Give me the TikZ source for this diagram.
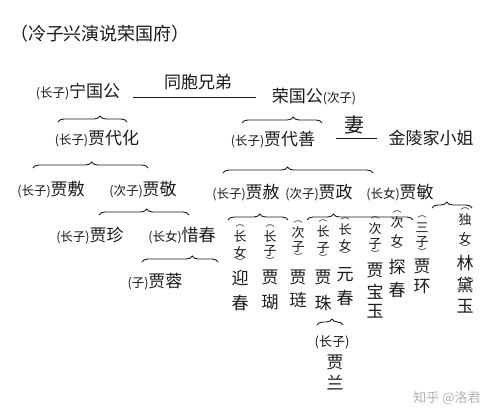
\documentclass[tikz,border=0pt]{standalone}
\usepackage{fontspec}
\usetikzlibrary{decorations.pathreplacing}
\newfontfamily\cjk{Noto Sans CJK SC}
\definecolor{ink}{HTML}{1A1A1A}
\newcommand\pf[1]{{\fontsize{12.5}{14}\selectfont(#1)}}
\tikzset{
 nm/.style={inner sep=0pt, font=\cjk\fontsize{17}{20}\selectfont, text=ink},
 lb/.style={inner sep=0pt, font=\cjk\fontsize{13}{15}\selectfont, text=ink},
 pr/.style={inner sep=0pt, font=\cjk\fontsize{9}{10}\selectfont, text=ink},
 brc/.style={draw=ink, line width=0.9pt, decorate, decoration={brace, amplitude=6pt, aspect=#1}},
 ln/.style={draw=ink, line width=0.9pt},
}
\begin{document}
\begin{tikzpicture}[x=1pt,y=-1pt]
\fill[white] (0,0) rectangle (499,418);
% title
\node[nm, font=\cjk\fontsize{18}{20}\selectfont] (title) at (100,34) {（冷子兴演说荣国府）};
% generation 1
\node[nm] (ningguo) at (78,92) {\pf{长子}宁国公};
\node[nm] (rongguo) at (314,97) {荣国公\pf{次子}};
\node[nm] (tongbao) at (198,82) {同胞兄弟};
\coordinate (l1a) at (133,97);
\coordinate (l1b) at (256,97);
\draw[ln] (l1a) -- (l1b);
% generation 2
\node[nm] (daihua) at (97,139) {\pf{长子}贾代化};
\node[nm] (daishan) at (273,140) {\pf{长子}贾代善};
\node[nm, font=\cjk\fontsize{20}{22}\selectfont] (qi) at (354,125) {妻};
\coordinate (l2a) at (336,138);
\coordinate (l2b) at (377,138);
\draw[ln] (l2a) -- (l2b);
\node[nm] (jinling) at (431,138) {金陵家小姐};
% generation 3
\node[nm] (jiafu) at (51,190) {\pf{长子}贾敷};
\node[nm] (jiajing) at (143,190) {\pf{次子}贾敬};
\node[nm] (jiashe) at (246,193) {\pf{长子}贾赦};
\node[nm] (jiazheng) at (319,193) {\pf{次子}贾政};
\node[nm] (jiamin) at (400,193) {\pf{长女}贾敏};
% generation 4 (left)
\node[nm] (jiazhen) at (90,236) {\pf{长子}贾珍};
\node[nm] (xichun) at (182,236) {\pf{长女}惜春};
\node[nm] (jiarong) at (155,282) {\pf{子}贾蓉};
% braces
\foreach \i/\a/\b/\y/\asp in {1/58/127/122/0.61, 2/242/322/123/0.64, 3/33/148/168/0.51,
  4/99/189/215/0.53, 5/142/218/262/0.66, 6/223/373/173/0.43, 7/228/288/220/0.53,
  8/307/413/220/0.25, 9/432/472/208/0.37, 10/317/343/325/0.58}{
  \coordinate (bl\i) at (\a,\y);
  \coordinate (br\i) at (\b,\y);
  \draw[brc=\asp] (bl\i) -- (br\i);
}
% vertical columns: labels
\foreach \n/\x/\ya/\yb/\ta/\tb in {c1/240/237/252/长/女, c2/270/237/251/长/子, c3/298/233/247/次/子,
  c4/323/232/248/长/子, c5/345/230/245/长/女, c6/375/229/244/次/子, c7/397/223/240/次/女,
  c8/422/228/242/三/子, c9/465/220/238/独/女}{
  \node[pr] (\n po) at (\x,\ya-11) {︵};
  \node[lb] (\n a) at (\x,\ya) {\ta};
  \node[lb] (\n b) at (\x,\yb) {\tb};
  \node[pr] (\n pc) at (\x,\yb+10) {︶};
}
% vertical columns: names
\foreach \n/\x/\y/\t in {n1a/240/278/迎, n1b/240/303/春, n2a/270/277/贾, n2b/270/302/瑚,
  n3a/298/277/贾, n3b/298/300/琏, n4a/323/277/贾, n4b/323/303/珠, n5a/345/275/元, n5b/345/298/春,
  n6a/375/270/贾, n6b/375/292/宝, n6c/375/311/玉, n7a/397/267/探, n7b/397/290/春,
  n8a/422/266/贾, n8b/422/287/环, n9a/465/263/林, n9b/465/285/黛, n9c/465/306/玉}{
  \node[nm] (\n) at (\x,\y) {\t};
}
% Jia Lan
\node[lb] (lanlb) at (332,342) {(长子)};
\node[nm] (lana) at (335,362) {贾};
\node[nm] (lanb) at (335,383) {兰};
% watermark
\node[inner sep=0pt, font=\cjk\fontsize{13}{15}\selectfont, text=black!30] (wm) at (447,398) {知乎 @洛君};
\end{tikzpicture}
\end{document}
